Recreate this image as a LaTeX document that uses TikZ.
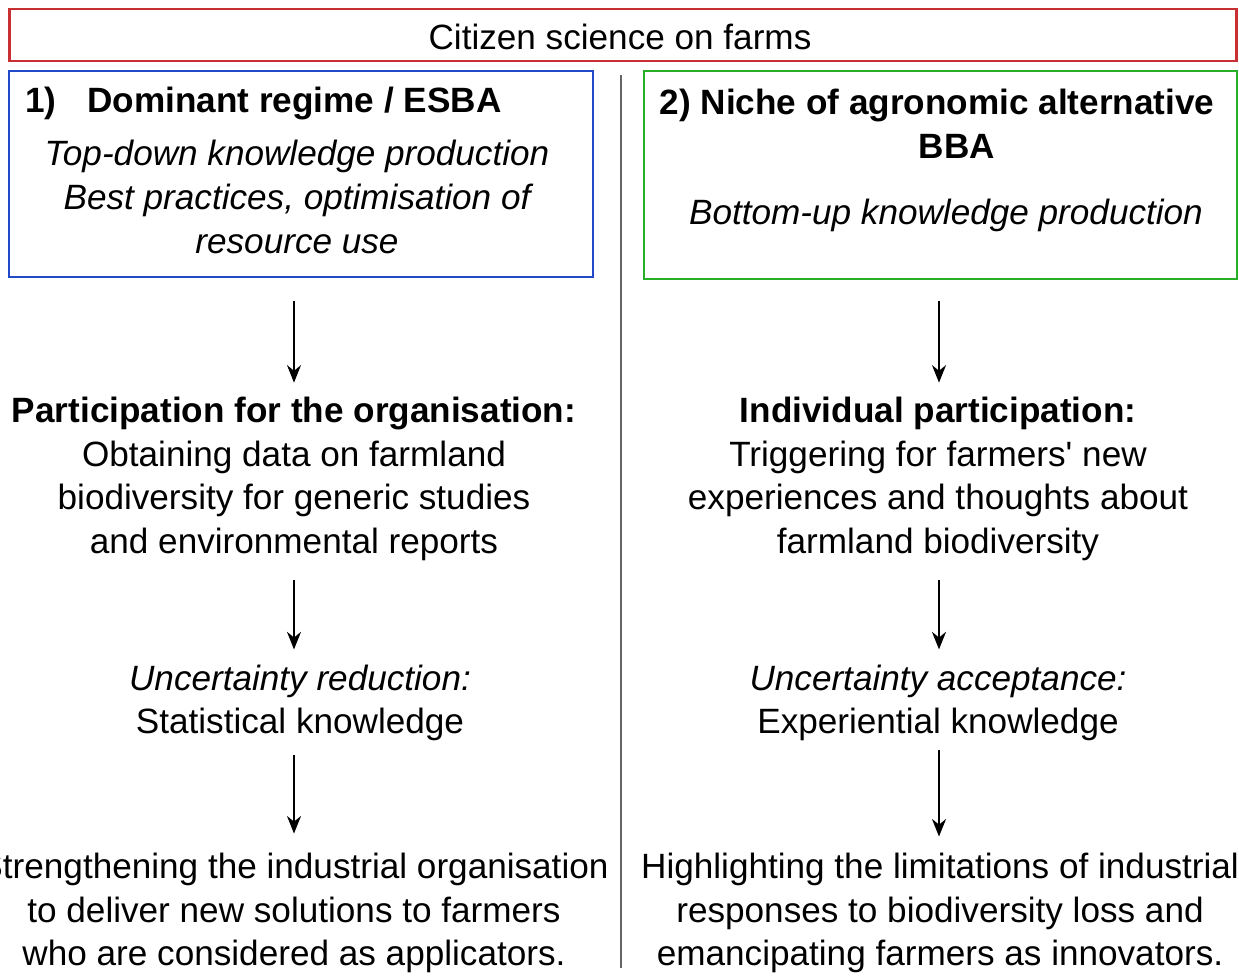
\documentclass[tikz,border=0pt]{standalone}
\usepackage{fontspec}
\setmainfont{Liberation Sans}
\usetikzlibrary{arrows.meta}

\definecolor{framered}{RGB}{200,48,52}
\definecolor{frameblue}{RGB}{32,72,200}
\definecolor{framegreen}{RGB}{40,175,40}

\tikzset{
  txt/.style={align=center, inner sep=0pt, font=\fontsize{20}{24.9}\selectfont},
  frame/.style={draw, line width=1.6pt, inner sep=0pt},
  arr/.style={-{Stealth[length=10pt,width=8pt]}, line width=0.85pt}
}

\begin{document}
\begin{tikzpicture}[x=0.02cm, y=-0.02cm]
\useasboundingbox (0,0) rectangle (1239,976);

\node[frame, draw=framered, minimum width=24.56cm, minimum height=1.04cm, txt] (cs) at (623,35) {};
\node[txt] (cstext) at (620,37) {Citizen science on farms};

\node[frame, draw=frameblue, minimum width=11.68cm, minimum height=4.12cm] (esba) at (301,174) {};
\node[frame, draw=framegreen, minimum width=11.86cm, minimum height=4.16cm] (bba) at (940.5,175) {};

\draw[gray!80!black, line width=0.8pt] (621,75) -- (621,968);

% left column
\node[txt, anchor=west, font=\fontsize{20}{24.9}\selectfont\bfseries] (esbatitle) at (25,103) {1)\hspace{17.6pt}Dominant regime / ESBA};
\node[txt, font=\fontsize{20}{24.9}\selectfont\itshape] (topdown) at (297,197) {Top-down knowledge production\\Best practices, optimisation of\\resource use};
\node[txt] (part) at (294,479) {\textbf{Participation for the organisation:}\\Obtaining data on farmland\\biodiversity for generic studies\\and environmental reports};
\node[txt] (unred) at (300,703) {\textit{Uncertainty reduction:}\\Statistical knowledge};
\node[txt] (stren) at (294,913) {Strengthening the industrial organisation\\to deliver new solutions to farmers\\who are considered as applicators.};

% right column
\node[txt, font=\fontsize{20}{24.9}\selectfont\bfseries] (nichetitle) at (937,124) {2) Niche of agronomic alternative\\\hspace*{22.7pt}BBA};
\node[txt, font=\fontsize{20}{24.9}\selectfont\itshape] (bottomup) at (946,215) {Bottom-up knowledge production};
\node[txt] (indiv) at (938,479) {\textbf{Individual participation:}\\Triggering for farmers\textquotesingle\ new\\experiences and thoughts about\\farmland biodiversity};
\node[txt] (unacc) at (938,703) {\textit{Uncertainty acceptance:}\\Experiential knowledge};
\node[txt] (highl) at (940,913) {Highlighting the limitations of industrial\\responses to biodiversity loss and\\emancipating farmers as innovators.};

\draw[arr, shorten <=0.46cm, shorten >=0.28cm] (esba.south -| part.north) -- (part.north);
\draw[arr, shorten <=0.37cm, shorten >=0.30cm] (part.south) -- (part.south |- unred.north);
\draw[arr, shorten <=0.27cm, shorten >=0.38cm] (part.south |- unred.south) -- (part.south |- stren.north);

\draw[arr, shorten <=0.42cm, shorten >=0.28cm] (bba.south -| 939,0) -- (indiv.north -| 939,0);
\draw[arr, shorten <=0.37cm, shorten >=0.30cm] (indiv.south -| 939,0) -- (unacc.north -| 939,0);
\draw[arr, shorten <=0.17cm, shorten >=0.32cm] (unacc.south -| 939,0) -- (highl.north -| 939,0);
\end{tikzpicture}
\end{document}
